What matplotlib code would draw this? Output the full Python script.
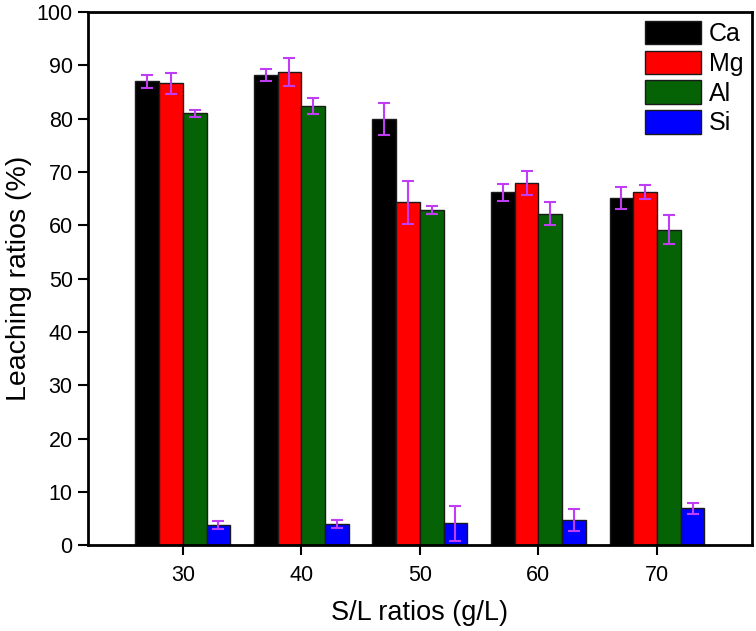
import matplotlib
matplotlib.use("Agg")
import matplotlib.pyplot as plt
import numpy as np

plt.rcParams['font.family'] = ['Liberation Sans', 'DejaVu Sans']

ratios = [30, 40, 50, 60, 70]
elements = ["Ca", "Mg", "Al", "Si"]
ca = [87.0, 88.2, 79.9, 66.2, 65.1]
mg = [86.6, 88.7, 64.3, 67.9, 66.3]
al = [81.0, 82.3, 62.9, 62.2, 59.2]
si = [3.8, 3.9, 4.1, 4.7, 6.9]
ca_err = [1.2, 1.2, 3.0, 1.6, 2.1]
mg_err = [1.9, 2.6, 4.0, 2.2, 1.3]
al_err = [0.7, 1.5, 0.75, 2.2, 2.7]
si_err = [0.7, 0.75, 3.3, 2.1, 1.05]

values = [ca, mg, al, si]
errors = [ca_err, mg_err, al_err, si_err]
colors = ["#000000", "#ff0000", "#056305", "#0000ff"]

fig = plt.figure(figsize=(7.56, 6.31), dpi=100)
ax = fig.add_axes([0.1164, 0.136, 0.878, 0.845])

x = np.array(ratios, dtype=float)
w = 2.0
offsets = [-1.5 * w, -0.5 * w, 0.5 * w, 1.5 * w]
for vals, errs, col, lab, off in zip(values, errors, colors, elements, offsets):
    ax.bar(x + off, vals, width=w, color=col, edgecolor="#1a1a1a", linewidth=1.0,
           label=lab, yerr=errs,
           error_kw=dict(ecolor="#c03cf5", elinewidth=1.5, capsize=4.5, capthick=1.5))

ax.set_xlim(22.0, 78.0)
ax.set_ylim(0, 100)
ax.set_xticks(ratios)
ax.set_yticks(range(0, 101, 10))
ax.tick_params(axis='both', direction='out', length=7, width=1.5, labelsize=15.5)
ax.tick_params(axis='x', pad=7)
ax.tick_params(axis='y', pad=4)
for s in ax.spines.values():
    s.set_linewidth(2.0)

ax.set_xlabel("S/L ratios (g/L)", fontsize=19.5, labelpad=10)
ax.set_ylabel("Leaching ratios (%)", fontsize=20.5, labelpad=3)

leg = ax.legend(loc="upper right", frameon=False, fontsize=18,
                handlelength=2.24, handleheight=1.05, labelspacing=0.19,
                handletextpad=0.3, borderaxespad=0.15, borderpad=0.2)

fig.savefig("out.png", dpi=100)
